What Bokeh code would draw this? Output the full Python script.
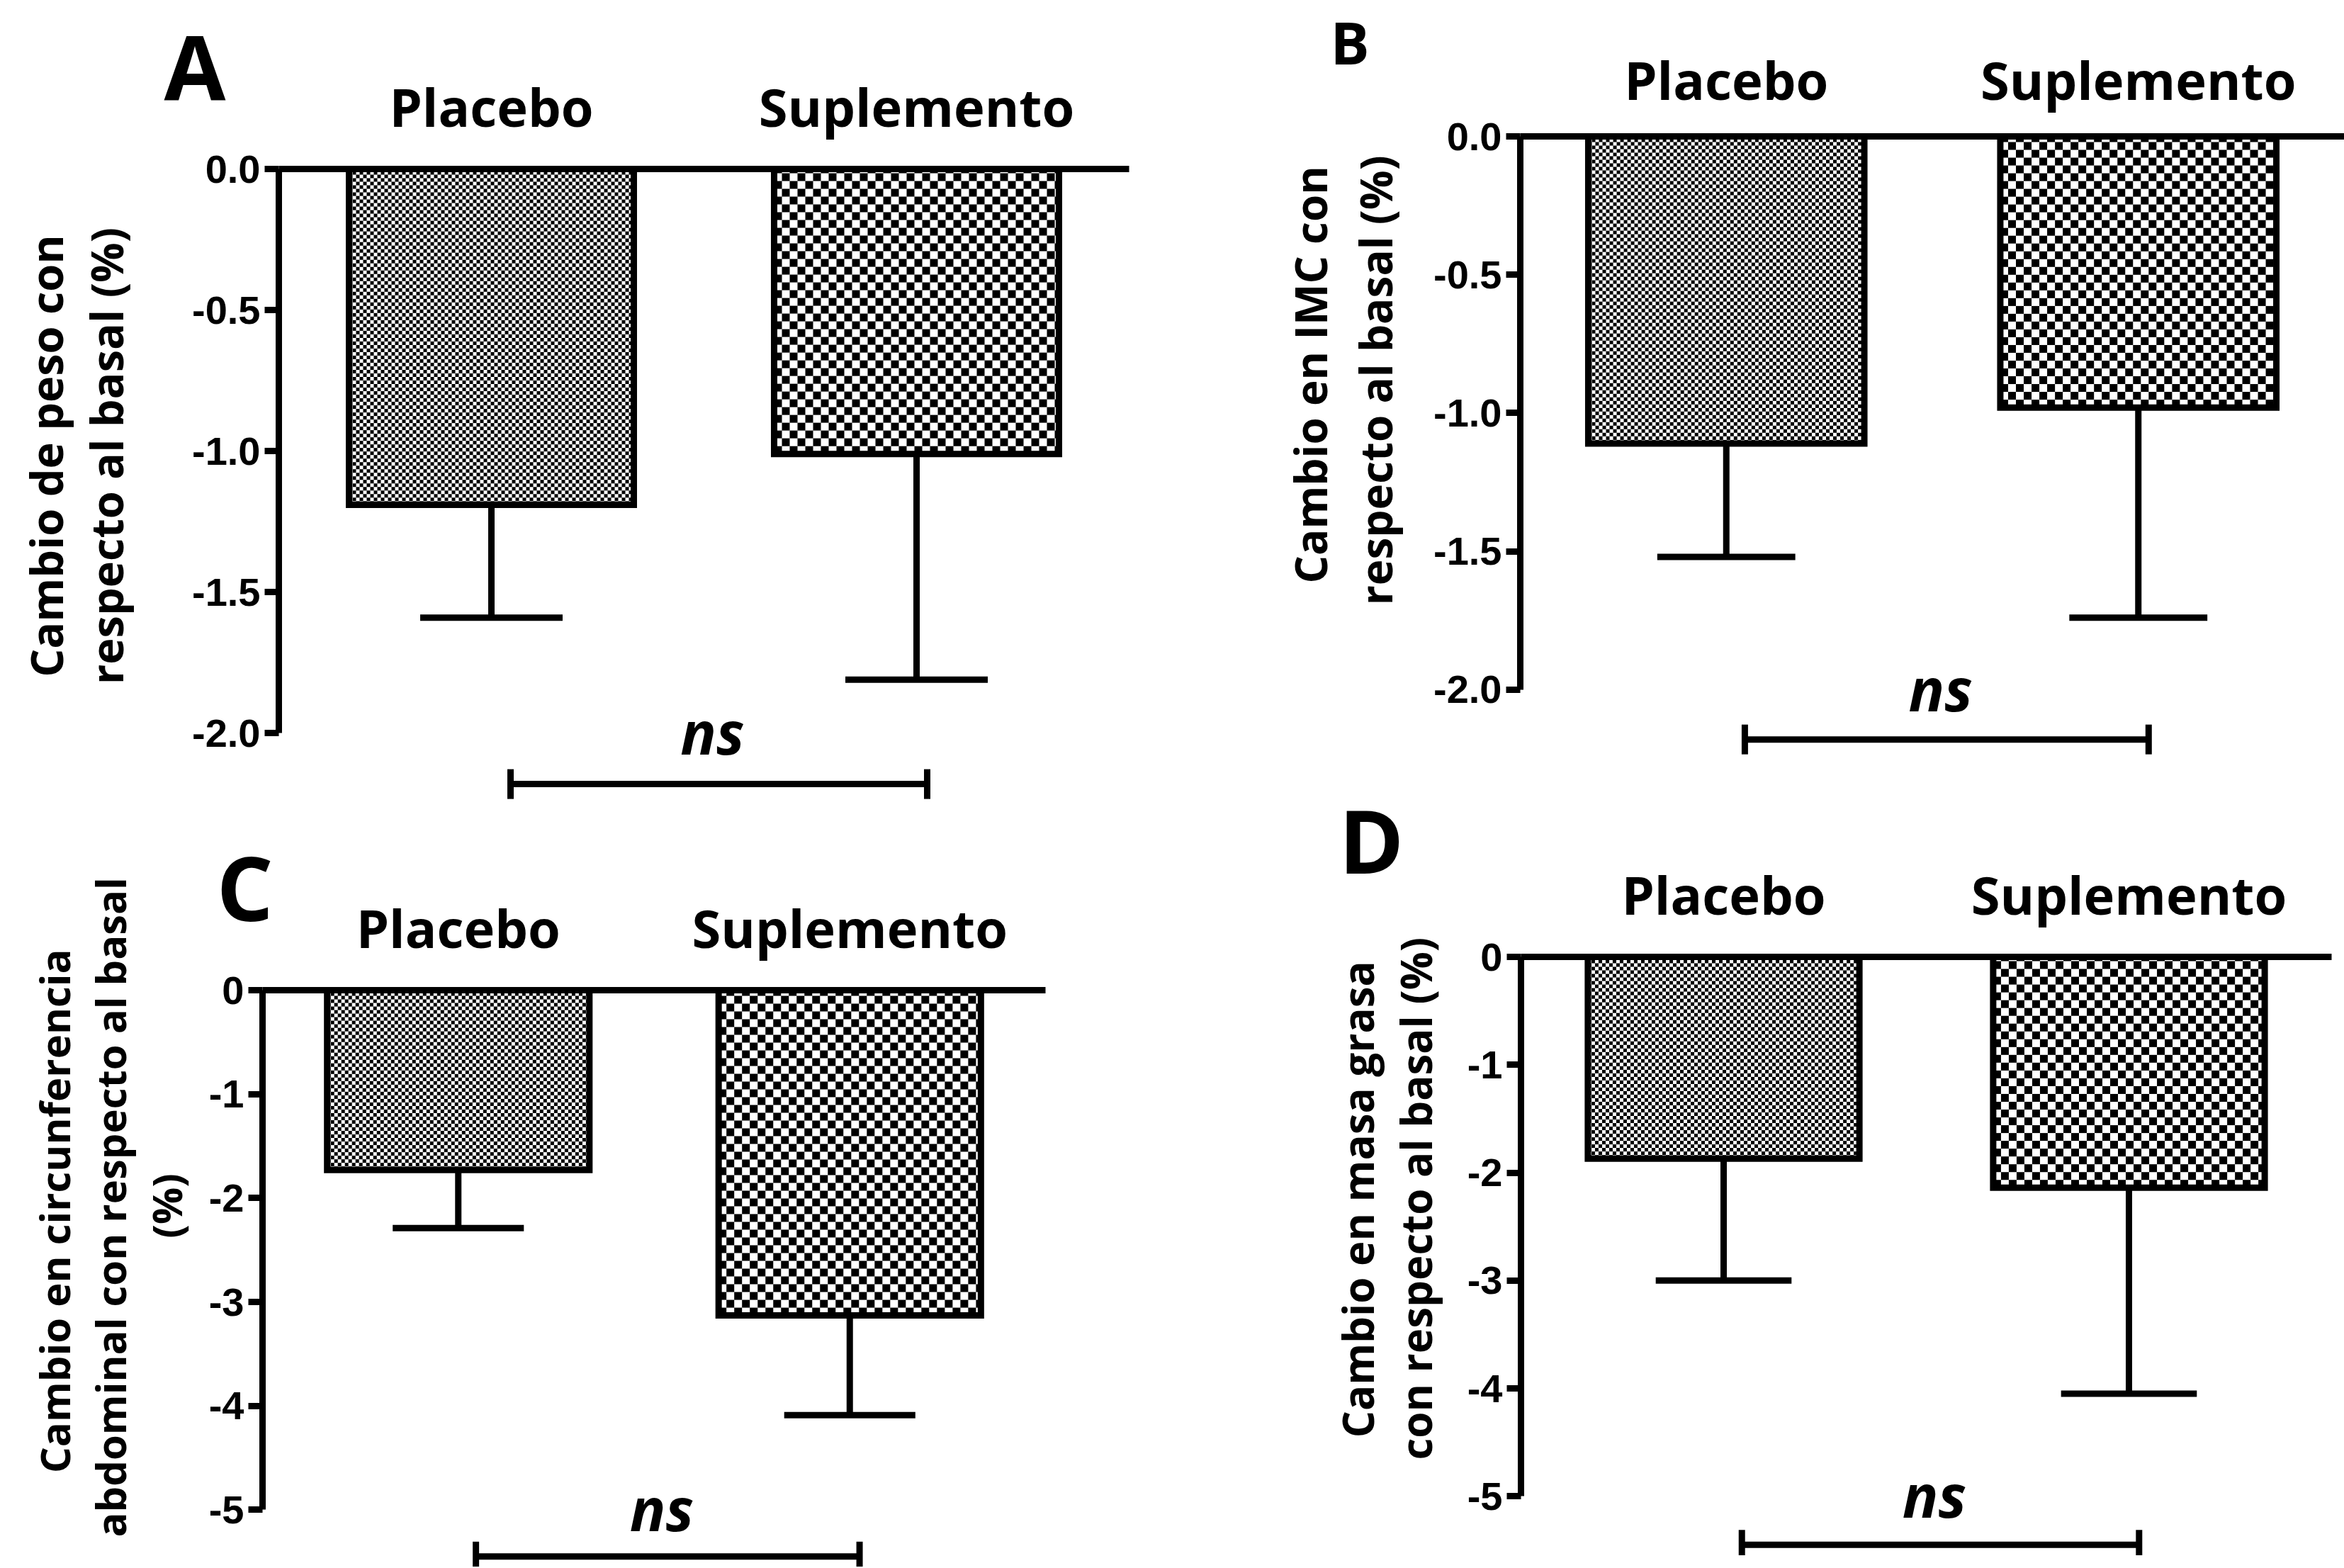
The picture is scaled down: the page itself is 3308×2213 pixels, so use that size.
import math
import numpy as np
from bokeh.plotting import figure
from bokeh.layouts import column, row
from bokeh.models import (ColumnDataSource, FactorRange, Range1d, FixedTicker,
                          PrintfTickFormatter, Title)
from bokeh.transform import dodge
from bokeh.core.properties import value
from bokeh.embed import file_html
from bokeh.resources import INLINE

# ---------------- data ----------------
categories = ["Placebo", "Suplemento"]

peso_mean = [-1.19, -1.01]       # A: cambio de peso (%)
peso_low = [-1.59, -1.81]        # lower end of error bar
imc_mean = [-1.11, -0.98]        # B: cambio en IMC (%)
imc_low = [-1.52, -1.74]
cintura_mean = [-1.73, -3.13]    # C: circunferencia abdominal (%)
cintura_low = [-2.29, -4.09]
grasa_mean = [-1.87, -2.14]      # D: masa grasa (%)
grasa_low = [-3.00, -4.05]

ticks_ab = [0.0, -0.5, -1.0, -1.5, -2.0]
ticks_cd = [0, -1, -2, -3, -4, -5]

panel_letters = ["A", "B", "C", "D"]
y_titles = [
    ["Cambio de peso con", "respecto al basal (%)"],
    ["Cambio en IMC con", "respecto al basal  (%)"],
    ["Cambio en  circunferencia", "abdominal con respecto al basal", "(%)"],
    ["Cambio en masa grasa", "con respecto al basal (%)"],
]
sig_label = "ns"

# ---------------- style ----------------
LW = 9
BAR_W = 0.67
CAP = BAR_W / 4
CHECK_PX = [5, 11]          # checker square size (px) per bar
NBSP = "\u00a0"

layout_cfg = [
    dict(width=1700, height=1130, left=393, right=107, top=238, ymin=-2.24, fmt="%.1f",
         ttl_size=63, ttl_lh=1.0, ttl_standoff=76, ttl_shift=5, ttl_mode="axis",
         xlab_standoff=38, letter_off=-162, letter_standoff=-164, letter_size=126),
    dict(width=1608, height=1090, left=445, right=0, top=192, ymin=-2.3, fmt="%.1f",
         ttl_size=62, ttl_lh=1.1, ttl_standoff=37, ttl_shift=14, ttl_mode="axis",
         xlab_standoff=30, letter_off=-268, letter_standoff=-114, letter_size=82),
    dict(width=1700, height=1081, left=370, right=225, top=267, ymin=-5.55, fmt="%d",
         ttl_size=58, ttl_lh=1.0, ttl_standoff=9, ttl_mode="title", ttl_offset=42,
         ttl_pads=[6, 0, 28],
         xlab_standoff=38, letter_off=-65, letter_standoff=-165, letter_size=126),
    dict(width=1608, height=1105, left=446, right=18, top=260, ymin=-5.55, fmt="%d",
         ttl_size=60, ttl_lh=1.0, ttl_standoff=20, ttl_mode="title", ttl_offset=135,
         ttl_pads=[2, 0],
         xlab_standoff=38, letter_off=-257, letter_standoff=-123, letter_size=124),
]


def checker_image(w_px, h_px, sq):
    w, h = max(int(round(w_px)), 1), max(int(round(h_px)), 1)
    jj, ii = np.meshgrid(np.arange(w), np.arange(h))
    black = ((ii // sq + jj // sq) % 2) == 0
    return np.where(black, np.uint32(0xFF000000), np.uint32(0xFFFFFFFF)).astype(np.uint32)


def make_panel(idx, means, lows, ticks):
    cfg = layout_cfg[idx]
    fw = cfg["width"] - cfg["left"] - cfg["right"]
    fh = cfg["height"] - cfg["top"]
    ymin = cfg["ymin"]
    px_per_x = fw / 2.0
    px_per_y = fh / abs(ymin)

    letter = Title(text=panel_letters[idx], align="left", vertical_align="middle",
                   offset=cfg["letter_off"], standoff=cfg["letter_standoff"],
                   text_font="Open Sans", text_font_style="bold",
                   text_font_size=f"{cfg['letter_size']}px", text_color="black")

    p = figure(x_range=FactorRange(factors=categories, range_padding=0),
               y_range=Range1d(ymin, 0), title=letter,
               width=cfg["width"], height=cfg["height"],
               min_border_left=cfg["left"], min_border_right=cfg["right"],
               min_border_top=cfg["top"], min_border_bottom=0,
               x_axis_location="above", output_backend="svg", toolbar_location=None,
               background_fill_color="white", border_fill_color="white",
               outline_line_color=None)
    p.xgrid.visible = False
    p.ygrid.visible = False

    ya = p.yaxis[0]
    ya.bounds = (min(ticks), max(ticks))
    ya.ticker = FixedTicker(ticks=ticks)
    ya.formatter = PrintfTickFormatter(format=cfg["fmt"])
    ya.minor_tick_line_color = None
    ya.major_tick_in = 0
    ya.major_tick_out = 20
    ya.major_tick_line_width = LW
    ya.axis_line_width = LW
    ya.major_label_text_font = "Liberation Sans"
    ya.major_label_text_font_style = "bold"
    ya.major_label_text_font_size = "56px"
    ya.major_label_text_color = "black"
    ya.major_label_standoff = 6
    ya.axis_label_text_color = "black"
    ya.axis_label_standoff = cfg["ttl_standoff"]
    if cfg["ttl_mode"] == "axis":
        # leading no-break spaces move the centred title up along the axis
        pad = NBSP * cfg["ttl_shift"]
        ya.axis_label = "\n".join(pad + line for line in y_titles[idx])
        ya.axis_label_text_font = "Open Sans"
        ya.axis_label_text_font_style = "bold"
        ya.axis_label_text_font_size = f"{cfg['ttl_size']}px"
        ya.axis_label_text_line_height = cfg["ttl_lh"]
    else:
        # tiny spacer label, real title drawn as a side title that can be offset
        ya.axis_label = " "
        ya.axis_label_text_font_size = "1px"
        lines = [NBSP * n + line for n, line in zip(cfg["ttl_pads"], y_titles[idx])]
        p.add_layout(Title(text="\n".join(lines), align="left", vertical_align="bottom",
                           offset=cfg["ttl_offset"], standoff=10,
                           text_font="Open Sans", text_font_style="bold",
                           text_font_size=f"{cfg['ttl_size']}px",
                           text_line_height=cfg["ttl_lh"], text_color="black"), "left")

    xa = p.xaxis[0]
    xa.axis_line_width = LW
    xa.major_tick_line_color = None
    xa.major_tick_out = 0
    xa.major_tick_in = 0
    xa.minor_tick_line_color = None
    xa.major_label_text_font = "Open Sans"
    xa.major_label_text_font_style = "bold"
    xa.major_label_text_font_size = "74px"
    xa.major_label_text_color = "black"
    xa.major_label_standoff = cfg["xlab_standoff"]

    src = ColumnDataSource(dict(cat=categories, mean=means, low=lows))
    # error bars (lower side only)
    p.segment(x0="cat", x1="cat", y0="mean", y1="low", source=src,
              line_color="black", line_width=LW)
    p.segment(x0=dodge("cat", -CAP, range=p.x_range), x1=dodge("cat", CAP, range=p.x_range),
              y0="low", y1="low", source=src, line_color="black", line_width=LW)

    # bars with checkerboard texture
    for i, cat in enumerate(categories):
        img = checker_image(BAR_W * px_per_x, -means[i] * px_per_y, CHECK_PX[i])
        bsrc = ColumnDataSource(dict(cat=[cat], mean=[means[i]], h=[-means[i]], image=[img]))
        p.image_rgba(image="image", x=dodge("cat", -BAR_W / 2, range=p.x_range),
                     y="mean", dw=BAR_W, dh="h", source=bsrc)
        p.vbar(x="cat", top=0, bottom="mean", width=BAR_W, source=bsrc,
               fill_color=None, line_color="black", line_width=LW, line_join="miter")

    # significance bracket
    by = min(ticks) * 1.09
    ny = min(ticks) * 0.997
    ssrc = ColumnDataSource(dict(x0=[categories[0]], x1=[categories[1]], y=[by],
                                 ty=[ny], t=[sig_label]))
    p.segment(x0=dodge("x0", 0.045, range=p.x_range), x1=dodge("x1", 0.025, range=p.x_range),
              y0="y", y1="y", source=ssrc, line_color="black", line_width=LW)
    p.scatter(x=dodge("x0", 0.045, range=p.x_range), y="y", source=ssrc, marker="dash",
              angle=math.pi / 2, size=42, line_color="black", line_width=LW)
    p.scatter(x=dodge("x1", 0.025, range=p.x_range), y="y", source=ssrc, marker="dash",
              angle=math.pi / 2, size=42, line_color="black", line_width=LW)
    p.text(x=dodge("x0", 0.52, range=p.x_range), y="ty", text="t", source=ssrc,
           text_font=value("Open Sans"), text_font_style="bold italic",
           text_font_size="84px", text_align="center", text_baseline="alphabetic",
           text_color="black")
    return p


pA = make_panel(0, peso_mean, peso_low, ticks_ab)
pB = make_panel(1, imc_mean, imc_low, ticks_ab)
pC = make_panel(2, cintura_mean, cintura_low, ticks_cd)
pD = make_panel(3, grasa_mean, grasa_low, ticks_cd)

layout = row(column(row(pA), row(pC)), column(row(pB), row(pD)))
open("out.html", "w").write(file_html(layout, INLINE))
